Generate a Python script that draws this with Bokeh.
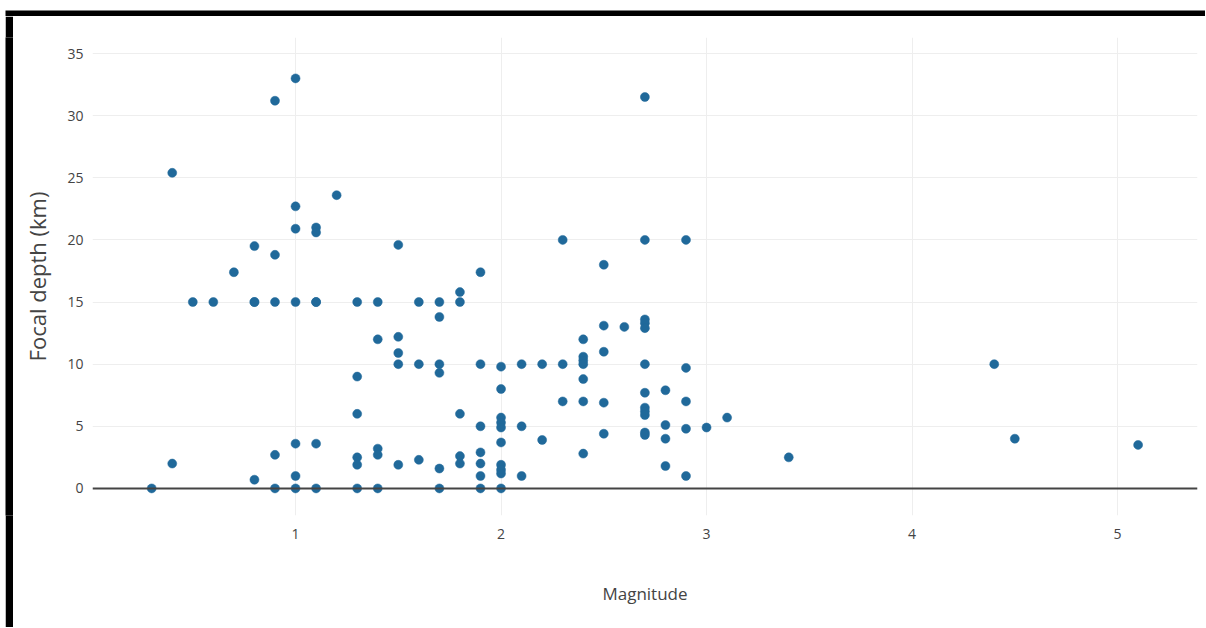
from bokeh.plotting import figure
from bokeh.models import Range1d, FixedTicker, Span, Spacer
from bokeh.layouts import column, row
from bokeh.embed import file_html
from bokeh.resources import INLINE

# Data (magnitude vs focal depth)
magnitude = [
    0.3,
    0.4, 0.4,
    0.5,
    0.6,
    0.7,
    0.8, 0.8, 0.8, 0.8,
    0.9, 0.9, 0.9, 0.9, 0.9,
    1.0, 1.0, 1.0, 1.0, 1.0, 1.0, 1.0,
    1.1, 1.1, 1.1, 1.1, 1.1, 1.1,
    1.2,
    1.3, 1.3, 1.3, 1.3, 1.3, 1.3,
    1.4, 1.4, 1.4, 1.4, 1.4,
    1.5, 1.5, 1.5, 1.5, 1.5,
    1.6, 1.6, 1.6,
    1.7, 1.7, 1.7, 1.7, 1.7, 1.7,
    1.8, 1.8, 1.8, 1.8, 1.8,
    1.9, 1.9, 1.9, 1.9, 1.9, 1.9, 1.9,
    2.0, 2.0, 2.0, 2.0, 2.0, 2.0, 2.0, 2.0, 2.0, 2.0,
    2.1, 2.1, 2.1,
    2.2, 2.2,
    2.3, 2.3, 2.3,
    2.4, 2.4, 2.4, 2.4, 2.4, 2.4, 2.4,
    2.5, 2.5, 2.5, 2.5, 2.5,
    2.6,
    2.7, 2.7, 2.7, 2.7, 2.7, 2.7, 2.7, 2.7, 2.7, 2.7, 2.7, 2.7,
    2.8, 2.8, 2.8, 2.8,
    2.9, 2.9, 2.9, 2.9, 2.9,
    3.0,
    3.1,
    3.4,
    4.4,
    4.5,
    5.1,
]
depth_km = [
    0,
    25.4, 2.0,
    15,
    15,
    17.4,
    19.5, 15, 15, 0.7,
    31.2, 18.8, 15, 2.7, 0,
    33, 22.7, 20.9, 15, 3.6, 1.0, 0,
    21.0, 20.6, 15, 15, 3.6, 0,
    23.6,
    15, 9.0, 6.0, 2.5, 1.9, 0,
    15, 12, 3.2, 2.7, 0,
    19.6, 12.2, 10.9, 10.0, 1.9,
    15, 10, 2.3,
    15, 13.8, 10, 9.3, 1.6, 0,
    15.8, 15, 6.0, 2.6, 2.0,
    17.4, 10, 5.0, 2.9, 2.0, 1.0, 0,
    9.8, 8.0, 5.7, 5.3, 4.9, 3.7, 1.9, 1.5, 1.2, 0,
    10, 5.0, 1.0,
    10, 3.9,
    20, 10, 7.0,
    12, 10.6, 10.3, 10.0, 8.8, 7.0, 2.8,
    18, 13.1, 11.0, 6.9, 4.4,
    13.0,
    31.5, 20, 13.6, 13.3, 12.9, 10, 7.7, 6.5, 6.2, 5.9, 4.5, 4.3,
    7.9, 5.1, 4.0, 1.8,
    20, 9.7, 7.0, 4.8, 1.0,
    4.9,
    5.7,
    2.5,
    10,
    4.0,
    3.5,
]
x_ticks = [1, 2, 3, 4, 5]
y_ticks = [0, 5, 10, 15, 20, 25, 30, 35]
x_title = "Magnitude"
y_title = "Focal depth (km)"

FONT = "Open Sans"


def bar(w, h):
    b = figure(width=w, height=h, toolbar_location=None, output_backend="svg",
               x_axis_location=None, y_axis_location=None, min_border=0,
               border_fill_color="black", background_fill_color="black",
               outline_line_color=None, x_range=Range1d(0, 1), y_range=Range1d(0, 1))
    b.grid.visible = False
    b.scatter([2], [2], size=1, alpha=0)
    return b


p = figure(width=1192, height=611, toolbar_location=None, output_backend="svg",
           x_range=Range1d(0.012, 5.389), y_range=Range1d(-2.18, 36.29),
           min_border_left=79, min_border_right=8, min_border_top=21,
           min_border_bottom=112, outline_line_color=None,
           background_fill_color="white", border_fill_color="white")

p.xgrid.ticker = FixedTicker(ticks=x_ticks)
p.ygrid.ticker = FixedTicker(ticks=y_ticks)
p.xaxis.ticker = FixedTicker(ticks=x_ticks)
p.yaxis.ticker = FixedTicker(ticks=y_ticks)
p.grid.grid_line_color = "#eeeeee"
p.grid.grid_line_width = 1

for ax in (p.xaxis, p.yaxis):
    ax.axis_line_color = None
    ax.major_tick_line_color = None
    ax.minor_tick_line_color = None
    ax.major_label_text_font = FONT
    ax.major_label_text_font_size = "14px"
    ax.major_label_text_color = "#444444"
    ax.axis_label_text_font = FONT
    ax.axis_label_text_font_style = "normal"
    ax.axis_label_text_color = "#444444"

p.xaxis.axis_label = x_title
p.yaxis.axis_label = y_title
p.xaxis.axis_label_text_font_size = "17px"
p.yaxis.axis_label_text_font_size = "22px"
p.xaxis.major_label_standoff = 7
p.xaxis.axis_label_standoff = 40
p.yaxis.major_label_standoff = 3
p.yaxis.axis_label_standoff = 12

zero = Span(location=0, dimension="width", line_color="#444444", line_width=2)
p.add_layout(zero)

p.scatter(magnitude, depth_km, size=9, fill_color="#20699a", line_color="#20699a",
          line_width=0.5)

layout = row(
    Spacer(width=5, height=620),
    column(
        Spacer(width=1200, height=7),
        bar(1200, 9),
        row(bar(8, 611), p),
    ),
)

open("out.html", "w").write(file_html(layout, INLINE))
